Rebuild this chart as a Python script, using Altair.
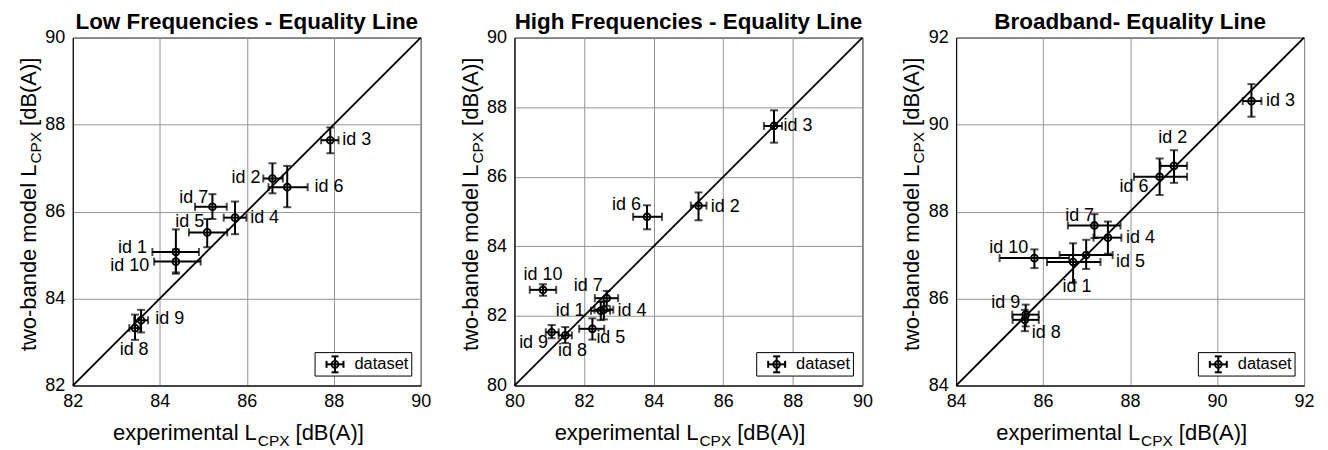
import altair as alt
import pandas as pd

FONT = "Liberation Sans"
W = 349
H = 349

IDS = ["id 1", "id 2", "id 3", "id 4", "id 5", "id 6", "id 7", "id 8", "id 9", "id 10"]

# ---------------- Low Frequencies ----------------
LF_X = [84.37, 86.59, 87.92, 85.73, 85.09, 86.93, 85.21, 83.43, 83.57, 84.37]
LF_Y = [85.07, 86.76, 87.64, 85.86, 85.52, 86.56, 86.11, 83.32, 83.50, 84.85]
LF_XLO = [83.83, 86.38, 87.71, 85.47, 84.67, 86.50, 84.81, 83.30, 83.41, 83.87]
LF_XHI = [84.90, 86.83, 88.11, 85.99, 85.55, 87.40, 85.54, 83.55, 83.73, 84.94]
LF_YLO = [84.60, 86.42, 87.34, 85.48, 85.18, 86.10, 85.83, 83.05, 83.22, 84.57]
LF_YHI = [85.59, 87.11, 87.93, 86.23, 85.83, 87.05, 86.40, 83.63, 83.74, 85.13]
LF_LX = [83.37, 85.98, 88.53, 86.41, 84.69, 87.89, 84.78, 83.41, 84.23, 83.31]
LF_LY = [85.16, 86.76, 87.64, 85.85, 85.75, 86.56, 86.30, 82.81, 83.53, 84.75]
LF_DOMAIN = [82, 90]
LF_TICKS = [82, 84, 86, 88, 90]

# ---------------- High Frequencies ----------------
HF_X = [82.48, 85.29, 87.46, 82.57, 82.24, 83.81, 82.65, 81.46, 81.07, 80.82]
HF_Y = [82.15, 85.17, 87.46, 82.18, 81.63, 84.85, 82.51, 81.44, 81.53, 82.75]
HF_XLO = [82.20, 85.07, 87.17, 82.30, 81.86, 83.41, 82.31, 81.27, 80.90, 80.44]
HF_XHI = [82.75, 85.52, 87.69, 82.84, 82.58, 84.24, 82.98, 81.65, 81.27, 81.20]
HF_YLO = [81.88, 84.75, 86.98, 81.90, 81.32, 84.49, 82.29, 81.22, 81.36, 82.58]
HF_YHI = [82.40, 85.55, 87.91, 82.42, 81.93, 85.18, 82.72, 81.68, 81.74, 82.91]
HF_LX = [81.60, 86.06, 88.15, 83.38, 82.77, 83.22, 82.12, 81.67, 80.55, 80.82]
HF_LY = [82.15, 85.13, 87.46, 82.15, 81.36, 85.18, 82.85, 80.98, 81.22, 83.17]
HF_DOMAIN = [80, 90]
HF_TICKS = [80, 82, 84, 86, 88, 90]

# ---------------- Broadband ----------------
BB_X = [86.69, 89.01, 90.79, 87.49, 86.99, 88.68, 87.18, 85.58, 85.60, 85.80]
BB_Y = [86.84, 89.05, 90.54, 87.40, 87.00, 88.80, 87.68, 85.51, 85.63, 86.93]
BB_XLO = [86.09, 88.70, 90.59, 87.16, 86.38, 88.09, 86.57, 85.30, 85.29, 85.00]
BB_XHI = [87.32, 89.31, 91.02, 87.80, 87.60, 89.31, 87.78, 85.90, 85.90, 86.60]
BB_YLO = [86.37, 88.66, 90.18, 87.03, 86.68, 88.38, 87.39, 85.25, 85.36, 86.70]
BB_YHI = [87.27, 89.41, 90.93, 87.77, 87.35, 89.22, 87.94, 85.74, 85.86, 87.13]
BB_LX = [86.78, 88.98, 91.46, 88.24, 88.01, 88.09, 86.84, 86.07, 85.14, 85.21]
BB_LY = [86.26, 89.68, 90.54, 87.40, 86.85, 88.56, 87.90, 85.21, 85.90, 87.16]
BB_DOMAIN = [84, 92]
BB_TICKS = [84, 86, 88, 90, 92]

TITLES = ["Low Frequencies - Equality Line",
          "High Frequencies - Equality Line",
          "Broadband- Equality Line"]

LEGEND_LABEL = "dataset"
X_TITLE = ["experimental L", "CPX", "[dB(A)]"]
Y_TITLE = ["two-bande model L", "CPX", "[dB(A)]"]

ONE = pd.DataFrame({"a": [0]})
MAIN_FS = 22
SUB_FS = 15.5
SUB_W = 2.056 * SUB_FS
LW = 2.0


def deco_text(txt, x, y, size, align="center", angle=0, baseline="middle"):
    kw = dict(text=txt, font=FONT, fontSize=size, color="black", align=align, baseline=baseline)
    if angle:
        kw["angle"] = angle
    return alt.Chart(ONE).mark_text(**kw).encode(x=alt.value(x), y=alt.value(y))


def deco_rule(x1, x2, y1, y2, w=LW):
    return alt.Chart(ONE).mark_rule(color="black", strokeWidth=w).encode(
        x=alt.value(x1), x2=alt.value(x2), y=alt.value(y1), y2=alt.value(y2))


def panel(title, dom, ticks, xs, ys, xlo, xhi, ylo, yhi, lx, ly):
    df = pd.DataFrame({"id": IDS, "x": xs, "y": ys, "xlo": xlo, "xhi": xhi,
                       "ylo": ylo, "yhi": yhi, "lx": lx, "ly": ly})
    sc = alt.Scale(domain=dom, nice=False, zero=False)
    xax = alt.Axis(values=ticks, title=None, grid=True, labelFlush=False, labelPadding=7,
                   tickSize=0, labelFontSize=18, labelFont=FONT, labelColor="black",
                   domainColor="black", gridColor="#949494", labelOverlap=False)
    yax = alt.Axis(values=ticks, title=None, grid=True, labelPadding=8,
                   tickSize=0, labelFontSize=18, labelFont=FONT, labelColor="black",
                   domainColor="black", gridColor="#949494", labelOverlap=False)

    def X(f):
        return alt.X(f, type="quantitative", scale=sc, axis=xax)

    def Y(f):
        return alt.Y(f, type="quantitative", scale=sc, axis=yax)

    base = alt.Chart(df)
    diag = alt.Chart(pd.DataFrame({"d": dom})).mark_line(color="black", strokeWidth=1.8).encode(
        x=X("d"), y=Y("d"))
    hbar = base.mark_rule(color="black", strokeWidth=LW).encode(x=X("xlo"), x2="xhi:Q", y=Y("y"))
    vbar = base.mark_rule(color="black", strokeWidth=LW).encode(x=X("x"), y=Y("ylo"), y2="yhi:Q")
    cap1 = base.mark_tick(orient="vertical", size=8, thickness=LW, color="black").encode(x=X("xlo"), y=Y("y"))
    cap2 = base.mark_tick(orient="vertical", size=8, thickness=LW, color="black").encode(x=X("xhi"), y=Y("y"))
    cap3 = base.mark_tick(orient="horizontal", size=8, thickness=LW, color="black").encode(x=X("x"), y=Y("ylo"))
    cap4 = base.mark_tick(orient="horizontal", size=8, thickness=LW, color="black").encode(x=X("x"), y=Y("yhi"))
    pts = base.mark_point(shape="circle", filled=False, size=48, color="black", strokeWidth=1.8, opacity=1).encode(
        x=X("x"), y=Y("y"))
    labs = base.mark_text(font=FONT, fontSize=18, color="black", align="center", baseline="middle").encode(
        x=X("lx"), y=Y("ly"), text="id:N")

    # legend box
    lx0, lx1, ly0, ly1 = W - 106, W - 9, H - 33, H - 9.5
    gx, gy = lx0 + 20, (ly0 + ly1) / 2
    leg_box = alt.Chart(ONE).mark_rect(fill="white", stroke="black", strokeWidth=1).encode(
        x=alt.value(lx0), x2=alt.value(lx1), y=alt.value(ly0), y2=alt.value(ly1))
    leg = [leg_box,
           deco_rule(gx - 8.5, gx + 8.5, gy, gy),
           deco_rule(gx, gx, gy - 8, gy + 8),
           deco_rule(gx - 8.5, gx - 8.5, gy - 3.5, gy + 3.5),
           deco_rule(gx + 8.5, gx + 8.5, gy - 3.5, gy + 3.5),
           deco_rule(gx - 3.5, gx + 3.5, gy - 8, gy - 8),
           deco_rule(gx - 3.5, gx + 3.5, gy + 8, gy + 8),
           alt.Chart(ONE).mark_point(shape="circle", filled=False, size=48, color="black",
                                     strokeWidth=1.8, opacity=1).encode(x=alt.value(gx), y=alt.value(gy)),
           deco_text(LEGEND_LABEL, lx0 + 39.5, gy, 16.5, align="left")]

    # composite axis titles with subscript
    cx = W / 2 + 27
    xt = [deco_text(X_TITLE[0], cx - SUB_W / 2 - 1, H + 48, MAIN_FS, align="right"),
          deco_text(X_TITLE[1], cx, H + 56, SUB_FS),
          deco_text(X_TITLE[2], cx + SUB_W / 2 + 6, H + 48, MAIN_FS, align="left")]
    cy = 110.5
    yt = [deco_text(Y_TITLE[0], -44, cy + SUB_W / 2 + 1, MAIN_FS, align="right", angle=270),
          deco_text(Y_TITLE[1], -37, cy, SUB_FS, angle=270),
          deco_text(Y_TITLE[2], -44, cy - SUB_W / 2 - 6, MAIN_FS, align="left", angle=270)]

    layers = [diag, hbar, vbar, cap1, cap2, cap3, cap4, pts, labs] + leg + xt + yt
    return alt.layer(*layers).properties(
        width=W, height=H,
        title=alt.TitleParams(title, font=FONT, fontSize=22.5, fontWeight="bold", color="black",
                              anchor="middle", offset=-5))


p1 = panel(TITLES[0], LF_DOMAIN, LF_TICKS, LF_X, LF_Y, LF_XLO, LF_XHI, LF_YLO, LF_YHI, LF_LX, LF_LY)
p2 = panel(TITLES[1], HF_DOMAIN, HF_TICKS, HF_X, HF_Y, HF_XLO, HF_XHI, HF_YLO, HF_YHI, HF_LX, HF_LY)
p3 = panel(TITLES[2], BB_DOMAIN, BB_TICKS, BB_X, BB_Y, BB_XLO, BB_XHI, BB_YLO, BB_YHI, BB_LX, BB_LY)

chart = alt.hconcat(p1, p2, p3, spacing=94, bounds="flush").properties(
    padding={"left": 9, "top": 2, "right": 5, "bottom": 0},
    background="white",
).configure_view(stroke="black", strokeWidth=1)

chart.save("out.html", embed_options={"renderer": "svg", "actions": False})
